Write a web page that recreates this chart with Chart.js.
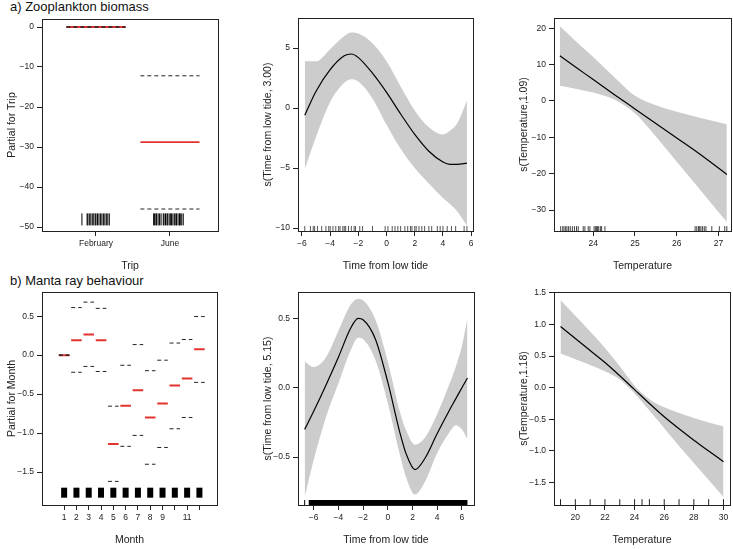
<!DOCTYPE html>
<html>
<head>
<meta charset="utf-8">
<script src="https://cdn.jsdelivr.net/npm/chart.js@4"></script>
<style>
body{margin:0;background:#fff;width:733px;height:549px;overflow:hidden;position:relative;font-family:"Liberation Sans",Arial,sans-serif}
canvas{position:absolute}
.ttl{position:absolute;left:10px;font-size:13px;line-height:14px;color:#111;white-space:nowrap}
</style>
</head>
<body>
<div class="ttl" style="top:0px">a) Zooplankton biomass</div>
<div class="ttl" style="top:274px">b) Manta ray behaviour</div>
<script>
// a) zooplankton biomass - trip term
var tripPos = [1, 2];
var tripLabels = ['February', 'June'];
var tripFit = [0, -28.8];
var tripUpper = [0, -12.2];
var tripLower = [0, -45.5];
var tripRug = [0.81, 0.88, 0.89, 0.91, 0.93, 0.95, 0.97, 0.99, 1.00, 1.02, 1.04, 1.06, 1.08, 1.10, 1.12, 1.14, 1.16, 1.18,
	1.78, 1.79, 1.81, 1.82, 1.84, 1.86, 1.88, 1.91, 1.92, 1.94, 1.96, 1.97, 1.99, 2.01, 2.02, 2.04, 2.06, 2.08, 2.09, 2.11, 2.13, 2.14, 2.16, 2.18];

// a) time from low tide smooth
var tideA = [-5.8, -5, -4, -3, -2.5, -2, -1, 0, 1, 2, 3, 4, 4.5, 5, 5.7];
var tideAFit = [-0.6, 1.4, 3.2, 4.35, 4.5, 4.2, 2.9, 1.3, -0.5, -2.2, -3.6, -4.5, -4.7, -4.7, -4.6];
var tideAUp = [3.9, 3.9, 4.9, 6.0, 6.3, 6.2, 5.4, 3.9, 1.8, -0.2, -1.6, -2.2, -1.9, -1.3, 0.6];
var tideALo = [-5.1, -2.4, 0.5, 2.1, 2.4, 2.2, 0.8, -1.4, -3.4, -5.0, -6.3, -7.5, -8.0, -8.6, -9.8];
var tideARug = [-5.8, -5.4, -5.2, -5.1, -4.9, -4.6, -4.3, -4.1, -4.0, -3.8, -3.6, -3.4, -3.3, -3.1, -3.0, -2.9, -2.7, -2.5, -2.3, -2.2, -1.9, -1.7,
	-1.0, -0.1, 0.1, 0.4, 0.6, 0.8, 1.0, 1.3, 1.5, 1.7, 1.8, 2.0, 2.1, 2.3, 2.5, 2.7, 3.0, 3.2, 3.6, 3.8, 4.0, 4.3, 4.6, 4.9, 5.5, 5.7];

// a) temperature smooth
var tempA = [23.2, 23.6, 24, 24.5, 25, 25.5, 26, 26.5, 27.2];
var tempAFit = [12.4, 9.1, 5.9, 1.8, -2.2, -6.2, -10.2, -14.2, -20.2];
var tempAUp = [20.5, 16.2, 12.1, 6.6, 1.4, -1.2, -3.0, -4.5, -6.4];
var tempALo = [4.2, 3.3, 2.3, 0.4, -3.4, -9.8, -16.7, -23.6, -33.3];
var tempARug = [23.22, 23.27, 23.3, 23.34, 23.37, 23.41, 23.45, 23.5, 23.55, 23.6, 23.64, 23.76, 23.8, 23.88, 23.92,
	24.02, 24.05, 24.08, 24.1, 24.13, 24.17, 24.2, 24.28, 26.44, 26.48, 26.52, 26.55, 26.58, 26.62, 26.66, 26.7, 26.84, 27.02, 27.15, 27.2];

// b) manta ray behaviour - month term
var months = [1, 2, 3, 4, 5, 6, 7, 8, 9, 10, 11, 12];
var monthLabels = ['1', '2', '3', '4', '5', '6', '7', '8', '9', '', '11', ''];
var monthFit = [0, 0.19, 0.265, 0.19, -1.14, -0.65, -0.45, -0.80, -0.62, -0.39, -0.30, 0.075];
var monthUpper = [0, 0.61, 0.68, 0.60, -0.655, -0.13, 0.135, -0.20, -0.065, 0.155, 0.20, 0.495];
var monthLower = [0, -0.22, -0.145, -0.21, -1.62, -1.17, -1.03, -1.40, -1.185, -0.945, -0.80, -0.35];

// b) time from low tide smooth
var tideB = [-6.73, -6, -5, -4, -3, -2.4, -2, -1, 0, 1, 1.5, 2.2, 3, 4, 5, 5.5, 6, 6.45];
var tideBFit = [-0.30, -0.17, 0.02, 0.22, 0.43, 0.50, 0.49, 0.35, 0.04, -0.33, -0.48, -0.59, -0.51, -0.33, -0.16, -0.08, 0.0, 0.07];
var tideBUp = [0.19, 0.15, 0.22, 0.41, 0.60, 0.64, 0.63, 0.49, 0.19, -0.18, -0.31, -0.41, -0.36, -0.19, 0.03, 0.15, 0.30, 0.50];
var tideBLo = [-0.79, -0.52, -0.21, 0.03, 0.27, 0.36, 0.35, 0.20, -0.11, -0.49, -0.65, -0.77, -0.68, -0.47, -0.32, -0.27, -0.30, -0.37];
var tideBRug = [-6.73];
var tideBRugBlock = [-6.4, 6.45];

// b) temperature smooth
var tempB = [19, 20, 21, 22, 23, 24, 25, 26, 27, 28, 29, 30];
var tempBFit = [0.97, 0.78, 0.59, 0.40, 0.19, -0.03, -0.25, -0.46, -0.65, -0.83, -1.00, -1.17];
var tempBUp = [1.39, 1.14, 0.89, 0.63, 0.34, 0.03, -0.18, -0.31, -0.40, -0.48, -0.55, -0.61];
var tempBLo = [0.54, 0.45, 0.36, 0.26, 0.13, -0.09, -0.36, -0.64, -0.92, -1.19, -1.46, -1.73];
var tempBRug = [19, 20, 21, 22, 23, 24, 24.5, 25, 26, 27, 28, 29, 30];

// tick values
var tripYTicks = [-50, -40, -30, -20, -10, 0];
var tideAYTicks = [-10, -5, 0, 5];
var tideXTicks = [-6, -4, -2, 0, 2, 4, 6];
var tempAYTicks = [-30, -20, -10, 0, 10, 20];
var tempAXTicks = [24, 25, 26, 27];
var monthYTicks = [-1.5, -1, -0.5, 0, 0.5];
var tideBYTicks = [-0.5, 0, 0.5];
var tempBYTicks = [-1.5, -1, -0.5, 0, 0.5, 1, 1.5];
var tempBXTicks = [20, 22, 24, 26, 28, 30];

var INK = '#222';
var RED = '#e3342f';
var BAND = '#cccccc';
Chart.defaults.font.family = '"Liberation Sans", Arial, sans-serif';
Chart.defaults.color = INK;

function minus(s) { return String(s).replace('-', '\u2212'); }
function intLabels(arr) { return arr.map(function (v) { return minus(v); }); }
function decLabels(arr) { return arr.map(function (v) { return minus(v.toFixed(1)); }); }

// frame round the plot region, like R's box()
var boxPlugin = {
	id: 'box',
	afterDatasetsDraw: function (chart) {
		var a = chart.chartArea, c = chart.ctx;
		c.save();
		c.strokeStyle = INK;
		c.lineWidth = 1;
		c.strokeRect(Math.round(a.left) + 0.5, Math.round(a.top) + 0.5, Math.round(a.right - a.left), Math.round(a.bottom - a.top));
		c.restore();
	}
};

function axis(pos, min, max, ticks, labels, title) {
	return {
		type: 'linear', position: pos, min: min, max: max,
		afterBuildTicks: function (s) { s.ticks = ticks.map(function (v) { return { value: v }; }); },
		afterFit: function (s) { if (pos === 'bottom') s.height = 45; else s.width = 40; },
		ticks: { autoSkip: false, maxRotation: 0, padding: 3, color: INK, font: { size: 8.5 },
			callback: function (v, i) { return labels[i]; } },
		grid: { drawOnChartArea: false, drawTicks: true, tickLength: 5, color: INK, lineWidth: 1 },
		border: { display: false },
		title: { display: true, text: title, color: INK, font: { size: 10.5 }, padding: { top: 4, bottom: 4 } }
	};
}

function bandSets(xs, fit, up, lo) {
	return [
		{ type: 'line', data: xs.map(function (x, i) { return { x: x, y: fit[i] }; }), borderColor: '#000', borderWidth: 1.2,
			pointRadius: 0, cubicInterpolationMode: 'monotone', fill: false, order: 0 },
		{ type: 'line', data: xs.map(function (x, i) { return { x: x, y: up[i] }; }), borderColor: 'rgba(0,0,0,0)', borderWidth: 1,
			pointRadius: 0, cubicInterpolationMode: 'monotone', fill: '+1', backgroundColor: BAND, order: 3 },
		{ type: 'line', data: xs.map(function (x, i) { return { x: x, y: lo[i] }; }), borderColor: 'rgba(0,0,0,0)', borderWidth: 1,
			pointRadius: 0, cubicInterpolationMode: 'monotone', fill: false, order: 3 }
	];
}

function rugSet(xs, y, r, color, w) {
	return { type: 'scatter', data: xs.map(function (x) { return { x: x, y: y }; }), pointStyle: 'line', rotation: 90,
		pointRadius: r, pointHoverRadius: r, borderColor: color, borderWidth: w, order: 1 };
}

function segSet(pos, vals, hw, color, w, dash, order) {
	var data = [];
	pos.forEach(function (p, i) {
		data.push({ x: p - hw, y: vals[i] }, { x: p + hw, y: vals[i] }, { x: p, y: null });
	});
	return { type: 'line', data: data, borderColor: color, borderWidth: w, borderDash: dash, pointRadius: 0,
		spanGaps: false, fill: false, tension: 0, order: order };
}

function panel(frame, datasets, xAxis, yAxis) {
	var L = frame[0] - 40, T = frame[1] - 12, W = frame[2] + 10 - L, H = frame[3] + 45 - T;
	var cv = document.createElement('canvas');
	cv.width = W; cv.height = H;
	cv.style.left = L + 'px'; cv.style.top = T + 'px';
	cv.style.width = W + 'px'; cv.style.height = H + 'px';
	document.body.appendChild(cv);
	return new Chart(cv, {
		type: 'line',
		data: { datasets: datasets },
		options: {
			responsive: false, animation: false, events: [],
			layout: { padding: { left: 0, top: 12, right: 10, bottom: 0 } },
			plugins: { legend: { display: false }, tooltip: { enabled: false } },
			scales: { x: xAxis, y: yAxis }
		},
		plugins: [boxPlugin]
	});
}

// a1
panel([42, 19, 218, 231], [
	segSet(tripPos, tripUpper, 0.4, INK, 1, [4, 3], 0),
	segSet(tripPos, tripLower, 0.4, INK, 1, [4, 3], 0),
	segSet(tripPos, tripFit, 0.4, RED, 1.8, [], 2),
	rugSet(tripRug, -48.1, 6, '#000', 1)
], axis('bottom', 0.27, 2.65, tripPos, tripLabels, 'Trip'),
   axis('left', -51, 2, tripYTicks, intLabels(tripYTicks), 'Partial for Trip'));

// a2
panel([298, 18, 473, 231], bandSets(tideA, tideAFit, tideAUp, tideALo).concat([
	rugSet(tideARug, -10.04, 2.5, '#555', 1)
]), axis('bottom', -6.28, 6.13, tideXTicks, intLabels(tideXTicks), 'Time from low tide'),
   axis('left', -10.25, 7.5, tideAYTicks, intLabels(tideAYTicks), 's(Time from low tide, 3.00)'));

// a3
panel([554, 18, 731, 231], bandSets(tempA, tempAFit, tempAUp, tempALo).concat([
	rugSet(tempARug, -35.1, 2.5, '#444', 1)
]), axis('bottom', 23.06, 27.3, tempAXTicks, intLabels(tempAXTicks), 'Temperature'),
   axis('left', -35.75, 22.8, tempAYTicks, intLabels(tempAYTicks), 's(Temperature,1.09)'));

// b1
panel([42, 292, 218, 505], [
	segSet(months, monthUpper, 0.43, INK, 1, [4, 3], 0),
	segSet(months, monthLower, 0.43, INK, 1, [4, 3], 0),
	segSet(months, monthFit, 0.43, RED, 2, [], 2),
	rugSet(months, -1.765, 5, '#000', 6)
], axis('bottom', -0.8, 13.43, months, monthLabels, 'Month'),
   axis('left', -1.923, 0.81, monthYTicks, decLabels(monthYTicks), 'Partial for Month'));

// b2
panel([298, 292, 474, 505], bandSets(tideB, tideBFit, tideBUp, tideBLo).concat([
	rugSet(tideBRug, -0.827, 2.5, '#000', 1),
	{ type: 'line', data: tideBRugBlock.map(function (x) { return { x: x, y: -0.827 }; }), borderColor: '#000',
		borderWidth: 5, borderCapStyle: 'butt', pointRadius: 0, fill: false, order: 1 }
]), axis('bottom', -7.27, 6.98, tideXTicks, intLabels(tideXTicks), 'Time from low tide'),
   axis('left', -0.845, 0.69, tideBYTicks, decLabels(tideBYTicks), 's(Time from low tide, 5.15)'));

// b3
panel([554, 292, 730, 505], bandSets(tempB, tempBFit, tempBUp, tempBLo).concat([
	rugSet(tempBRug, -1.81, 3, '#222', 1)
]), axis('bottom', 18.56, 30.44, tempBXTicks, intLabels(tempBXTicks), 'Temperature'),
   axis('left', -1.855, 1.515, tempBYTicks, decLabels(tempBYTicks), 's(Temperature,1.18)'));
</script>
</body>
</html>
